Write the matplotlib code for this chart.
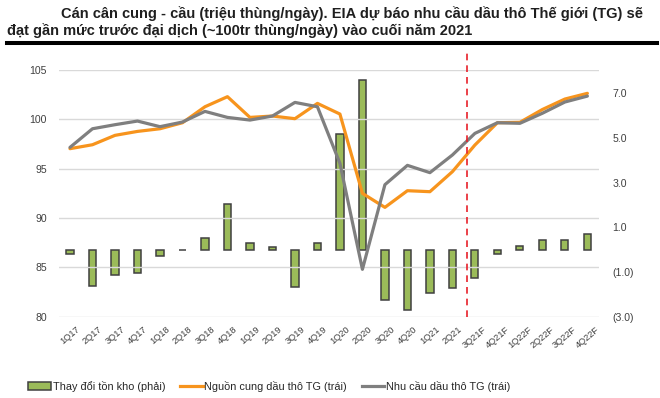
import numpy as np
import matplotlib
matplotlib.use("Agg")
import matplotlib.pyplot as plt
from matplotlib.patches import Patch
from matplotlib.lines import Line2D

plt.rcParams['font.family'] = ['Liberation Sans', 'DejaVu Sans']

# ========================
# DATA
# ========================
quarters = ['1Q17', '2Q17', '3Q17', '4Q17', '1Q18', '2Q18', '3Q18', '4Q18',
            '1Q19', '2Q19', '3Q19', '4Q19', '1Q20', '2Q20', '3Q20', '4Q20',
            '1Q21', '2Q21', '3Q21F', '4Q21F', '1Q22F', '2Q22F', '3Q22F', '4Q22F']

# Thay doi ton kho (truc phai)
stock_change = [-0.21, -1.64, -1.15, -1.03, -0.30, -0.03, 0.52, 2.05,
                0.28, 0.10, -1.68, 0.30, 5.18, 7.59, -2.26, -2.68,
                -1.96, -1.73, -1.25, -0.21, 0.15, 0.45, 0.42, 0.68]

# Nguon cung dau tho TG (truc trai)
supply = [97.03, 97.43, 98.38, 98.78, 99.05, 99.66, 101.28, 102.30,
          100.20, 100.34, 100.07, 101.62, 100.54, 92.50, 91.08, 92.77,
          92.67, 94.70, 97.40, 99.66, 99.70, 101.00, 102.06, 102.64]

# Nhu cau dau tho TG (truc trai)
demand = [97.16, 99.05, 99.46, 99.83, 99.26, 99.73, 100.81, 100.20,
          99.93, 100.34, 101.72, 101.28, 95.54, 84.80, 93.38, 95.34,
          94.60, 96.39, 98.58, 99.66, 99.60, 100.62, 101.76, 102.36]

left_ticks = [80, 85, 90, 95, 100, 105]
right_ticks = [-3, -1, 1, 3, 5, 7]
right_labels = ['(3.0)', '(1.0)', '1.0', '3.0', '5.0', '7.0']
forecast_split = 17.63

GREEN = '#9BBB59'
ORANGE = '#F7941D'
GRAY = '#7F7F7F'
TEXT = '#404040'

x = np.arange(len(quarters))

fig = plt.figure(figsize=(6.6, 3.98), dpi=100)
ax = fig.add_axes([0.089, 0.2043, 0.818, 0.6197])
ax2 = ax.twinx()

# cot ton kho o truc phai, ve duoi cac duong
ax2.bar(x, stock_change, width=0.32, color=GREEN, edgecolor='#404040',
        linewidth=1.1, zorder=2)
ax2.set_ylim(-3, 8.04)
ax2.set_yticks(right_ticks)
ax2.set_yticklabels(right_labels)

ax.set_zorder(ax2.get_zorder() + 1)
ax.patch.set_visible(False)
ax.plot(x, supply, color=ORANGE, linewidth=2.3, solid_capstyle='round', zorder=3)
ax.plot(x, demand, color=GRAY, linewidth=2.3, solid_capstyle='round', zorder=4)
ax.set_ylim(80, 105)
ax.set_yticks(left_ticks)
ax.set_xlim(-0.5, len(quarters) - 0.5)
ax.set_xticks(x)
ax.set_xticklabels(quarters, rotation=40, ha='center', va='top',
                   fontsize=6.7, color=TEXT)
ax.grid(axis='y', color='#D9D9D9', linewidth=1)
ax.set_axisbelow(True)

# moc du bao
ax.axvline(forecast_split, ymin=0, ymax=1.08, color='#E8202A', linestyle=(0, (4, 3)),
           linewidth=1.2, clip_on=False, zorder=5)

for a in (ax, ax2):
    for s in a.spines.values():
        s.set_visible(False)
    a.tick_params(length=0, colors=TEXT)
ax.tick_params(axis='y', labelsize=7.6, pad=8.5)
ax2.tick_params(axis='y', labelsize=7.6, pad=10)
ax.tick_params(axis='x', pad=6)

# tieu de + duong ke den
fig.text(0.092, 0.956, 'Cán cân cung - cầu (triệu thùng/ngày). EIA dự báo nhu cầu dầu thô Thế giới (TG) sẽ',
         fontsize=10.5, fontweight='bold', color='#1f1f1f', va='baseline')
fig.text(0.011, 0.913, 'đạt gần mức trước đại dịch (~100tr thùng/ngày) vào cuối năm 2021',
         fontsize=10.5, fontweight='bold', color='#1f1f1f', va='baseline')
fig.add_artist(Line2D([0.011, 0.995], [0.893, 0.893], color='black', linewidth=2.9))

handles = [Patch(facecolor=GREEN, edgecolor='#404040', linewidth=1.1),
           Line2D([0], [0], color=ORANGE, linewidth=2.3),
           Line2D([0], [0], color=GRAY, linewidth=2.3)]
labels = ['Thay đổi tồn kho (phải)', 'Nguồn cung dầu thô TG (trái)', 'Nhu cầu dầu thô TG (trái)']
fig.legend(handles, labels, loc='center left', bbox_to_anchor=(0.043, 0.03), ncol=3,
           frameon=False, fontsize=7.8, handlelength=2.1, handletextpad=0.15,
           columnspacing=1.35, labelcolor='#262626', borderaxespad=0, borderpad=0)

fig.savefig('out.png', dpi=100)
